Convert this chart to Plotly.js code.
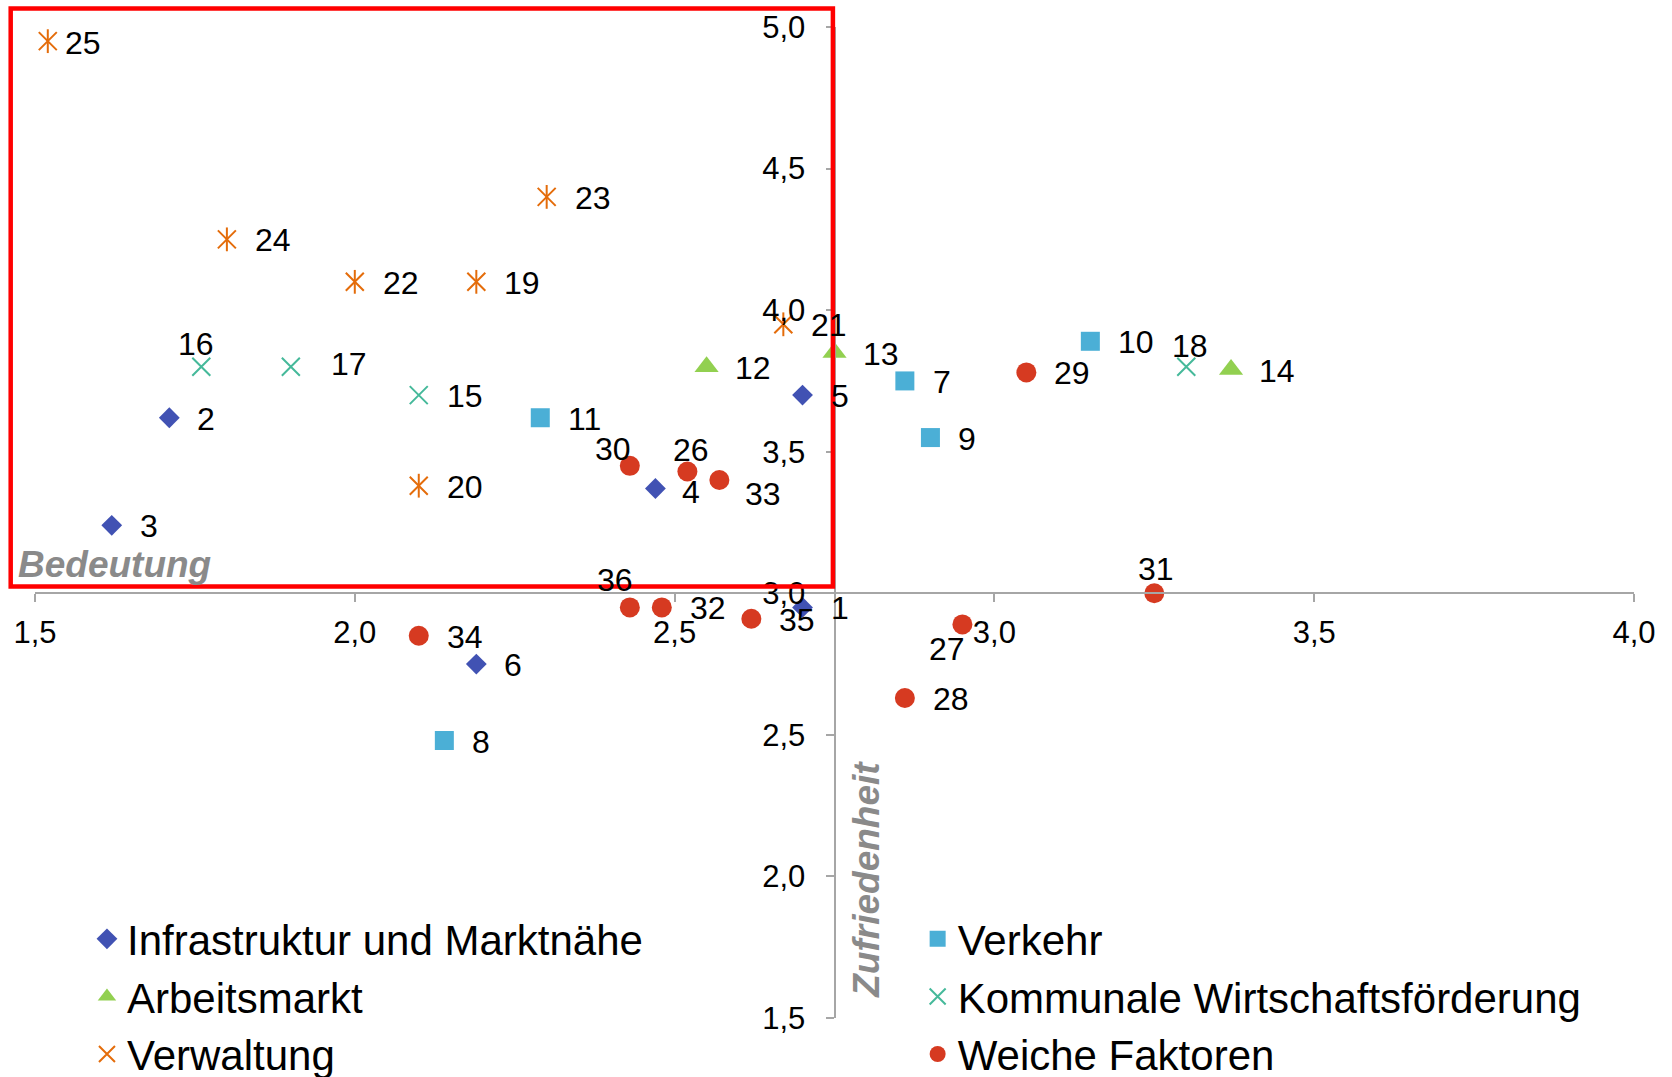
<!DOCTYPE html>
<html>
<head>
<meta charset="utf-8">
<script src="https://cdn.plot.ly/plotly-3.0.1.min.js"></script>
<style>html,body{margin:0;padding:0;background:#fff;}#chart{width:1672px;height:1077px;}</style>
</head>
<body>
<div id="chart"></div>
<script>
// ---- data ----
const seriesNames = ['Infrastruktur und Marktnähe', 'Verkehr', 'Arbeitsmarkt',
  'Kommunale Wirtschaftsförderung', 'Verwaltung', 'Weiche Faktoren'];

const infraIds = ['1', '2', '3', '4', '5', '6'];
const infraX = [2.70, 1.71, 1.62, 2.47, 2.70, 2.19];
const infraY = [2.95, 3.62, 3.24, 3.37, 3.70, 2.75];

const verkehrIds = ['7', '8', '9', '10', '11'];
const verkehrX = [2.86, 2.14, 2.90, 3.15, 2.29];
const verkehrY = [3.75, 2.48, 3.55, 3.89, 3.62];

const arbeitIds = ['12', '13', '14'];
const arbeitX = [2.55, 2.75, 3.37];
const arbeitY = [3.80, 3.85, 3.79];

const kommIds = ['15', '16', '17', '18'];
const kommX = [2.10, 1.76, 1.90, 3.30];
const kommY = [3.70, 3.80, 3.80, 3.80];

const verwIds = ['19', '20', '21', '22', '23', '24', '25'];
const verwX = [2.19, 2.10, 2.67, 2.00, 2.30, 1.80, 1.52];
const verwY = [4.10, 3.38, 3.95, 4.10, 4.40, 4.25, 4.95];

const weichIds = ['26', '27', '28', '29', '30', '31', '32', '33', '34', '35', '36'];
const weichX = [2.52, 2.95, 2.86, 3.05, 2.43, 3.25, 2.48, 2.57, 2.10, 2.62, 2.43];
const weichY = [3.43, 2.89, 2.63, 3.78, 3.45, 3.00, 2.95, 3.40, 2.85, 2.91, 2.95];

const xTickVals = [1.5, 2.0, 2.5, 3.0, 3.5, 4.0];
const yTickVals = [1.5, 2.0, 2.5, 3.0, 3.5, 4.0, 4.5, 5.0];
const xTitle = 'Bedeutung';
const yTitle = 'Zufriedenheit';

// ---- styles ----
const X_RANGE = [1.5, 4.0], Y_RANGE = [1.5, 5.0];
const X_CROSS = 2.75, Y_CROSS = 3.0;
const FONT = 'Liberation Sans, Arial, sans-serif';

const series = [
  {ids: infraIds, x: infraX, y: infraY, sym: 'diamond', size: 16, color: '#4152b3', legend: 'legend'},
  {ids: verkehrIds, x: verkehrX, y: verkehrY, sym: 'square', size: 19, color: '#4bafd6', legend: 'legend2'},
  {ids: arbeitIds, x: arbeitX, y: arbeitY, sym: 'triangle-up', size: 21, color: '#92d050', legend: 'legend'},
  {ids: kommIds, x: kommX, y: kommY, sym: 'x-thin-open', size: 18, color: '#45b99a', legend: 'legend2', line: true},
  {ids: verwIds, x: verwX, y: verwY, sym: 'x-thin-open', size: 18, color: '#e46c0a', legend: 'legend', line: true, extra: 'line-ns-open'},
  {ids: weichIds, x: weichX, y: weichY, sym: 'circle', size: 20, color: '#d63a21', legend: 'legend2'}
];

// label placement: default right of marker
const labelStyle = {
  '25': {xa: 'left', dx: 15, dy: -2},
  '17': {xa: 'left', dx: 38, dy: 3},
  '4':  {xa: 'left', dx: 25, dy: -3},
  '33': {xa: 'left', dx: 24, dy: -14},
  '16': {xa: 'center', dx: -5, dy: 23},
  '18': {xa: 'center', dx: 4, dy: 21},
  '30': {xa: 'center', dx: -17, dy: 17},
  '26': {xa: 'center', dx: 4, dy: 22},
  '36': {xa: 'center', dx: -15, dy: 27},
  '31': {xa: 'center', dx: 2, dy: 24},
  '27': {xa: 'center', dx: -15, dy: -25}
};

const traces = [];
series.forEach((s, i) => {
  traces.push({
    type: 'scatter', mode: 'markers', name: seriesNames[i],
    x: s.x, y: s.y, legend: s.legend, cliponaxis: false,
    marker: s.line
      ? {symbol: s.sym, size: s.size, color: s.color, line: {width: 2, color: s.color}}
      : {symbol: s.sym, size: s.size, color: s.color, line: {width: 0}},
    hoverinfo: 'x+y'
  });
  if (s.extra) {
    traces.push({
      type: 'scatter', mode: 'markers', name: seriesNames[i], showlegend: false,
      x: s.x, y: s.y, legend: s.legend, cliponaxis: false,
      marker: {symbol: s.extra, size: 17, color: s.color, line: {width: 2, color: s.color}},
      hoverinfo: 'skip'
    });
  }
});

const annotations = [];
series.forEach(s => {
  s.ids.forEach((id, j) => {
    const st = labelStyle[id] || {xa: 'left', dx: 26, dy: -1};
    annotations.push({
      x: s.x[j], y: s.y[j], xref: 'x', yref: 'y', text: id, showarrow: false,
      xanchor: st.xa, yanchor: 'middle', xshift: st.dx, yshift: st.dy,
      font: {family: FONT, size: 32, color: '#000'}
    });
  });
});

const yPosPaper = (Y_CROSS - Y_RANGE[0]) / (Y_RANGE[1] - Y_RANGE[0]);
const xPosPaper = (X_CROSS - X_RANGE[0]) / (X_RANGE[1] - X_RANGE[0]);

annotations.push({
  xref: 'paper', yref: 'paper', x: -0.0119, y: 0.458, xanchor: 'left', yanchor: 'middle',
  text: '<b><i>' + xTitle + '</i></b>', showarrow: false,
  font: {family: FONT, size: 37, color: '#8a8a8a'}
});
annotations.push({
  xref: 'paper', yref: 'paper', x: 0.520, y: 0.140, xanchor: 'center', yanchor: 'middle',
  text: '<b><i>' + yTitle + '</i></b>', showarrow: false, textangle: -90,
  font: {family: FONT, size: 37, color: '#8a8a8a'}
});

const axisCommon = {
  showgrid: false, zeroline: false, showline: true, linecolor: '#a6a6a6', linewidth: 2,
  ticks: 'outside', ticklen: 8, tickwidth: 2, tickcolor: '#a6a6a6',
  tickformat: '.1f', tickfont: {family: FONT, size: 31, color: '#000'},
  anchor: 'free', fixedrange: true, automargin: false
};

const layout = {
  width: 1672, height: 1077,
  margin: {l: 35, r: 38, t: 27, b: 59, autoexpand: false},
  paper_bgcolor: '#fff', plot_bgcolor: 'rgba(0,0,0,0)',
  separators: ',.',
  font: {family: FONT, color: '#000'},
  showlegend: true,
  xaxis: Object.assign({}, axisCommon, {range: X_RANGE, tickvals: xTickVals, position: yPosPaper, ticklabelstandoff: 4}),
  yaxis: Object.assign({}, axisCommon, {range: Y_RANGE, tickvals: yTickVals, position: xPosPaper, ticklabelstandoff: 14}),
  legend: {x: 0.0325, y: 0.114, xanchor: 'left', yanchor: 'top', bgcolor: 'rgba(0,0,0,0)',
    font: {family: FONT, size: 42, color: '#000'}, orientation: 'v', tracegroupgap: 0},
  legend2: {x: 0.552, y: 0.114, xanchor: 'left', yanchor: 'top', bgcolor: 'rgba(0,0,0,0)',
    font: {family: FONT, size: 42, color: '#000'}, orientation: 'v', tracegroupgap: 0},
  shapes: [{
    type: 'rect', xref: 'paper', yref: 'paper',
    x0: -0.0152, x1: 0.499, y0: 0.4354, y1: 1.0187,
    line: {color: '#ff0000', width: 4.5}, fillcolor: 'rgba(0,0,0,0)', layer: 'above'
  }],
  annotations: annotations
};

Plotly.newPlot('chart', traces, layout, {displayModeBar: false, staticPlot: true});
</script>
</body>
</html>
